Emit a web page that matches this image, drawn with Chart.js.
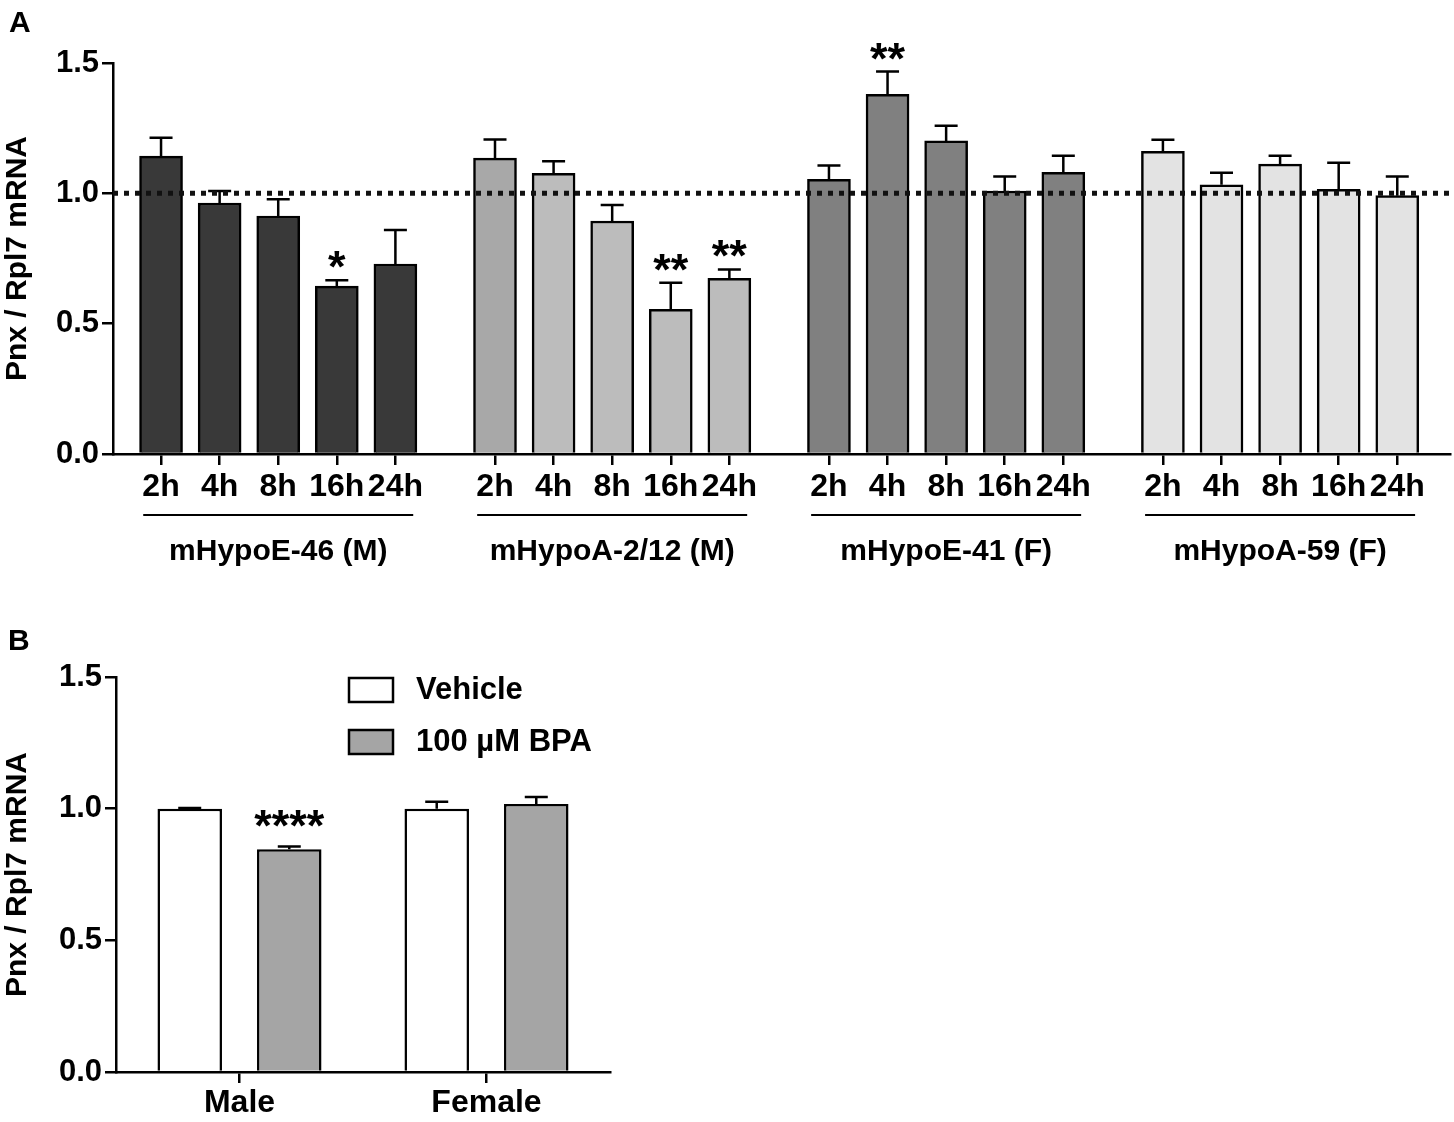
<!DOCTYPE html>
<html>
<head>
<meta charset="utf-8">
<script src="https://cdn.jsdelivr.net/npm/chart.js@4.4.1/dist/chart.umd.min.js"></script>
<style>
  body { margin: 0; background: #fff; width: 1454px; height: 1122px; position: relative; overflow: hidden; }
  canvas { position: absolute; }
</style>
</head>
<body>
<canvas id="chartA" width="1454" height="600" style="left:0;top:0"></canvas>
<canvas id="chartB" width="640" height="502" style="left:0;top:620px"></canvas>
<script>
// ---- panel A data ----
const timeLabels = ['2h', '4h', '8h', '16h', '24h'];
const cellLines = ['mHypoE-46 (M)', 'mHypoA-2/12 (M)', 'mHypoE-41 (F)', 'mHypoA-59 (F)'];

const meanE46 = [1.143, 0.963, 0.913, 0.644, 0.729];
const semE46 = [0.070, 0.046, 0.064, 0.023, 0.130];
const sigE46 = ['', '', '', '*', ''];

const meanA212 = [1.135, 1.077, 0.894, 0.555, 0.674];
const semA212 = [0.072, 0.046, 0.061, 0.102, 0.034];
const sigA212 = ['', '', '', '**', '**'];

const meanE41 = [1.054, 1.380, 1.201, 1.009, 1.081];
const semE41 = [0.053, 0.087, 0.058, 0.056, 0.063];
const sigE41 = ['', '**', '', '', ''];

const meanA59 = [1.161, 1.033, 1.112, 1.015, 0.991];
const semA59 = [0.045, 0.046, 0.032, 0.102, 0.074];
const sigA59 = ['', '', '', '', ''];

const yTicks = [0, 0.5, 1.0, 1.5];

// ---- panel B data ----
const sexLabels = ['Male', 'Female'];
const treatments = ['Vehicle', '100 µM BPA'];
const meanVehicle = [1.000, 1.000];
const semVehicle = [0.003, 0.026];
const sigVehicle = ['', ''];
const meanBPA = [0.846, 1.018];
const semBPA = [0.010, 0.026];
const sigBPA = ['****', ''];

const FONT = '"Liberation Sans", Arial, Helvetica, sans-serif';
Chart.defaults.font.family = FONT;
Chart.defaults.color = '#000';

const GROUP_STEP = 5.7;   // spacing between cell line groups, in bar slots

// error bars (upper only) + significance stars
const errorBarPlugin = {
    id: 'errorBars',
    afterDatasetsDraw(chart) {
        const ctx = chart.ctx;
        const yScale = chart.scales.y;
        ctx.save();
        ctx.strokeStyle = '#000';
        ctx.fillStyle = '#000';
        ctx.lineWidth = 2.5;
        chart.data.datasets.forEach((ds, d) => {
            const meta = chart.getDatasetMeta(d);
            meta.data.forEach((bar, i) => {
                const p = ds.data[i];
                const v = typeof p === 'object' ? p.y : p;
                const top = yScale.getPixelForValue(v + ds.errors[i]);
                ctx.beginPath();
                ctx.moveTo(bar.x, bar.y);
                ctx.lineTo(bar.x, top);
                ctx.moveTo(bar.x - 11.5, top);
                ctx.lineTo(bar.x + 11.5, top);
                ctx.stroke();
                if (ds.sig && ds.sig[i]) {
                    ctx.font = 'bold 45px ' + FONT;
                    ctx.textAlign = 'center';
                    ctx.textBaseline = 'alphabetic';
                    ctx.fillText(ds.sig[i], bar.x, top + (ds.sigGap || 10));
                }
            });
        });
        ctx.restore();
    }
};

const refLinePlugin = {
    id: 'refLine',
    afterDatasetsDraw(chart, args, opts) {
        if (opts.value === undefined) return;
        const ctx = chart.ctx;
        const y = chart.scales.y.getPixelForValue(opts.value);
        ctx.save();
        ctx.strokeStyle = '#111';
        ctx.lineWidth = 5;
        ctx.setLineDash([5, 6]);
        ctx.beginPath();
        ctx.moveTo(chart.chartArea.left, y);
        ctx.lineTo(chart.chartArea.right, y);
        ctx.stroke();
        ctx.restore();
    }
};

const panelLetterPlugin = {
    id: 'panelLetter',
    afterDraw(chart, args, opts) {
        if (!opts.text) return;
        const ctx = chart.ctx;
        ctx.save();
        ctx.font = 'bold 30px ' + FONT;
        ctx.textAlign = 'left';
        ctx.textBaseline = 'alphabetic';
        ctx.fillStyle = '#000';
        ctx.fillText(opts.text, opts.x, opts.y);
        ctx.restore();
    }
};

// ---- panel A ----
const seriesA = [
    { mean: meanE46, sem: semE46, sig: sigE46 },
    { mean: meanA212, sem: semA212, sig: sigA212 },
    { mean: meanE41, sem: semE41, sig: sigE41 },
    { mean: meanA59, sem: semA59, sig: sigA59 }
];
const fillsA = [
    '#393939',
    ['#a8a8a8', '#bcbcbc', '#bcbcbc', '#bcbcbc', '#bcbcbc'],
    '#808080',
    '#e3e3e3'
];
const tickPositionsA = [];
seriesA.forEach((s, g) => s.mean.forEach((v, i) => tickPositionsA.push(g * GROUP_STEP + i)));

const groupLabelPlugin = {
    id: 'groupLabels',
    afterDraw(chart) {
        const ctx = chart.ctx;
        const xScale = chart.scales.x;
        ctx.save();
        ctx.strokeStyle = '#000';
        ctx.fillStyle = '#000';
        ctx.lineWidth = 2;
        ctx.font = 'bold 30px ' + FONT;
        ctx.textAlign = 'center';
        ctx.textBaseline = 'middle';
        cellLines.forEach((name, g) => {
            const mid = xScale.getPixelForValue(g * GROUP_STEP + 2);
            ctx.beginPath();
            ctx.moveTo(mid - 135, 515);
            ctx.lineTo(mid + 135, 515);
            ctx.stroke();
            ctx.fillText(name, mid, 552);
        });
        ctx.restore();
    }
};

new Chart(document.getElementById('chartA').getContext('2d'), {
    type: 'bar',
    data: {
        datasets: seriesA.map((s, g) => ({
            label: cellLines[g],
            data: s.mean.map((v, i) => ({ x: g * GROUP_STEP + i, y: v })),
            errors: s.sem,
            sig: s.sig,
            sigGap: 2,
            backgroundColor: fillsA[g],
            borderColor: '#000',
            borderWidth: 2.5,
            grouped: false,
            barThickness: 43
        }))
    },
    plugins: [errorBarPlugin, refLinePlugin, groupLabelPlugin, panelLetterPlugin],
    options: {
        responsive: false,
        animation: false,
        devicePixelRatio: 1,
        layout: { padding: { top: 63, right: 4, left: 0, bottom: 0 } },
        plugins: {
            legend: { display: false },
            tooltip: { enabled: false },
            refLine: { value: 1.0 },
            panelLetter: { text: 'A', x: 9, y: 32 }
        },
        scales: {
            x: {
                type: 'linear',
                offset: false,
                min: -0.82,
                max: 22.0,
                afterBuildTicks: scale => { scale.ticks = tickPositionsA.map(v => ({ value: v })); },
                afterFit: scale => { scale.height = 146; },
                ticks: {
                    autoSkip: false,
                    maxRotation: 0,
                    padding: 3,
                    font: { size: 32, weight: 'bold' },
                    callback: (value, index) => timeLabels[index % timeLabels.length]
                },
                grid: { offset: false, drawOnChartArea: false, tickLength: 11, color: '#000', lineWidth: 2.5 },
                border: { color: '#000', width: 2.5 }
            },
            y: {
                min: 0,
                max: 1.5,
                afterBuildTicks: scale => { scale.ticks = yTicks.map(v => ({ value: v })); },
                afterFit: scale => { scale.width = 113; },
                ticks: {
                    padding: 3,
                    font: { size: 31, weight: 'bold' },
                    callback: v => v.toFixed(1)
                },
                title: {
                    display: true,
                    text: 'Pnx / Rpl7 mRNA',
                    font: { size: 30, weight: 'bold' },
                    padding: 0
                },
                grid: { drawOnChartArea: false, tickLength: 11, color: '#000', lineWidth: 2.5 },
                border: { color: '#000', width: 2.5 }
            }
        }
    }
});

// ---- panel B ----
const fillsB = ['#ffffff', '#a5a5a5'];

const legendBPlugin = {
    id: 'legendB',
    afterDraw(chart) {
        const ctx = chart.ctx;
        ctx.save();
        ctx.font = 'bold 31px ' + FONT;
        ctx.textAlign = 'left';
        ctx.textBaseline = 'middle';
        chart.data.datasets.forEach((ds, d) => {
            const top = 58 + d * 52;
            ctx.fillStyle = ds.backgroundColor;
            ctx.fillRect(349, top, 44, 24);
            ctx.strokeStyle = '#000';
            ctx.lineWidth = 2.5;
            ctx.strokeRect(349, top, 44, 24);
            ctx.fillStyle = '#000';
            ctx.fillText(ds.label, 416, top + 12);
        });
        ctx.restore();
    }
};

new Chart(document.getElementById('chartB').getContext('2d'), {
    type: 'bar',
    data: {
        labels: sexLabels,
        datasets: [
            { label: treatments[0], data: meanVehicle, errors: semVehicle, sig: sigVehicle, backgroundColor: fillsB[0] },
            { label: treatments[1], data: meanBPA, errors: semBPA, sig: sigBPA, sigGap: -6, backgroundColor: fillsB[1] }
        ].map(ds => Object.assign(ds, {
            borderColor: '#000',
            borderWidth: 2.5,
            barPercentage: 0.648,
            categoryPercentage: 0.806
        }))
    },
    plugins: [errorBarPlugin, legendBPlugin, panelLetterPlugin],
    options: {
        responsive: false,
        animation: false,
        devicePixelRatio: 1,
        layout: { padding: { top: 57, right: 30, left: 0, bottom: 0 } },
        plugins: {
            legend: { display: false },
            tooltip: { enabled: false },
            panelLetter: { text: 'B', x: 8, y: 30 }
        },
        scales: {
            x: {
                afterFit: scale => { scale.height = 50; },
                ticks: { padding: 1, font: { size: 32, weight: 'bold' } },
                grid: { offset: false, drawOnChartArea: false, tickLength: 11, color: '#000', lineWidth: 2.5 },
                border: { color: '#000', width: 2.5 }
            },
            y: {
                min: 0,
                max: 1.5,
                afterBuildTicks: scale => { scale.ticks = yTicks.map(v => ({ value: v })); },
                afterFit: scale => { scale.width = 116; },
                ticks: {
                    padding: 3,
                    font: { size: 31, weight: 'bold' },
                    callback: v => v.toFixed(1)
                },
                title: {
                    display: true,
                    text: 'Pnx / Rpl7 mRNA',
                    font: { size: 30, weight: 'bold' },
                    padding: 0
                },
                grid: { drawOnChartArea: false, tickLength: 11, color: '#000', lineWidth: 2.5 },
                border: { color: '#000', width: 2.5 }
            }
        }
    }
});
</script>
</body>
</html>
